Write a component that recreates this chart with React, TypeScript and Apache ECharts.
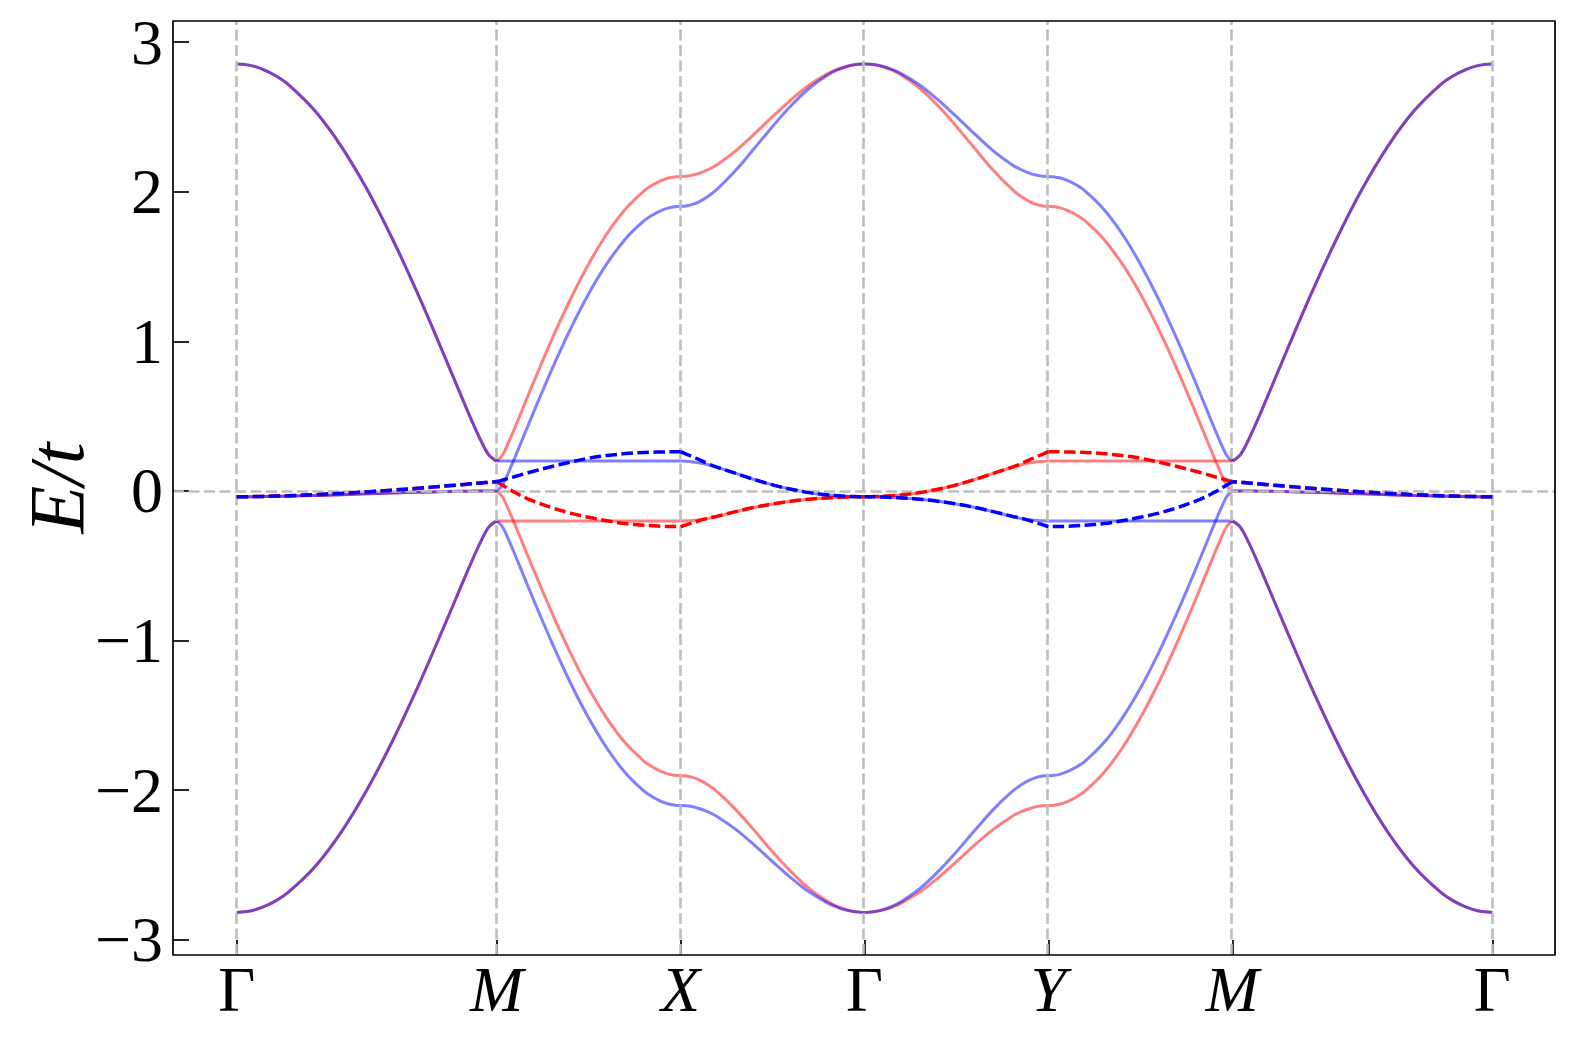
import React, { useEffect, useRef } from "react";
import * as echarts from "echarts";

// High-symmetry points along the path (x positions in units of pi/a)
const KPOS = [0, 1.4142, 2.4142, 3.4142, 4.4142, 5.4142, 6.8284];
const KLABELS = ["Γ", "M", "X", "Γ", "Y", "M", "Γ"];
const Y_TICKS = [-3, -2, -1, 0, 1, 2, 3];

// sample fractions along every path segment
const FR = [0, 0.03, 0.06, 0.1, 0.15, 0.2, 0.3, 0.4, 0.5, 0.6, 0.7, 0.8, 0.85, 0.9, 0.94, 0.97, 1];

// ---- Γ -> M (spin degenerate) ----
const GM_UPPER = [2.854, 2.851, 2.842, 2.819, 2.776, 2.715, 2.543, 2.309, 2.02, 1.681, 1.304, 0.898, 0.691, 0.486, 0.333, 0.24, 0.2];
const GM_MIDDLE = [-0.038, -0.038, -0.038, -0.037, -0.036, -0.034, -0.03, -0.025, -0.019, -0.013, -0.008, -0.004, -0.002, -0.001, 0, 0, 0];
const GM_LOWER = [-2.817, -2.813, -2.804, -2.782, -2.74, -2.68, -2.513, -2.285, -2.0, -1.668, -1.296, -0.895, -0.689, -0.485, -0.333, -0.24, -0.2];
const GM_DASHED = [-0.038, -0.038, -0.037, -0.036, -0.034, -0.032, -0.025, -0.016, -0.006, 0.006, 0.019, 0.033, 0.04, 0.048, 0.054, 0.058, 0.062];

// ---- M -> X ----
const MX_RED_UPPER = [0.2, 0.237, 0.313, 0.428, 0.577, 0.726, 1.013, 1.28, 1.518, 1.721, 1.885, 2.005, 2.047, 2.078, 2.094, 2.1, 2.103];
const MX_RED_LOWER = [0, -0.037, -0.113, -0.228, -0.377, -0.526, -0.813, -1.08, -1.318, -1.521, -1.685, -1.805, -1.847, -1.878, -1.894, -1.9, -1.903];
const MX_RED_FLAT = [-0.2, -0.2, -0.2, -0.2, -0.2, -0.2, -0.2, -0.2, -0.2, -0.2, -0.2, -0.2, -0.2, -0.2, -0.2, -0.2, -0.2];
const MX_RED_DASHED = [0.062, 0.04, 0.018, -0.01, -0.042, -0.068, -0.112, -0.148, -0.176, -0.199, -0.218, -0.229, -0.233, -0.236, -0.237, -0.238, -0.238];
const MX_BLUE_UPPER = [0, 0.037, 0.113, 0.228, 0.377, 0.526, 0.813, 1.08, 1.318, 1.521, 1.685, 1.805, 1.847, 1.878, 1.894, 1.9, 1.903];
const MX_BLUE_LOWER = [-0.2, -0.237, -0.313, -0.428, -0.577, -0.726, -1.013, -1.28, -1.518, -1.721, -1.885, -2.005, -2.047, -2.078, -2.094, -2.1, -2.103];
const MX_BLUE_FLAT = [0.2, 0.2, 0.2, 0.2, 0.2, 0.2, 0.2, 0.2, 0.2, 0.2, 0.2, 0.2, 0.2, 0.2, 0.2, 0.2, 0.2];
const MX_BLUE_DASHED = [0.062, 0.073, 0.083, 0.097, 0.115, 0.132, 0.164, 0.193, 0.219, 0.237, 0.25, 0.257, 0.259, 0.261, 0.262, 0.263, 0.263];

// ---- X -> Γ ----
const XG_RED_UPPER = [2.103, 2.104, 2.11, 2.123, 2.149, 2.183, 2.274, 2.385, 2.502, 2.615, 2.714, 2.79, 2.818, 2.838, 2.849, 2.853, 2.854];
const XG_RED_MIDDLE = [-0.2, -0.199, -0.197, -0.192, -0.183, -0.17, -0.138, -0.11, -0.087, -0.068, -0.055, -0.046, -0.043, -0.04, -0.039, -0.038, -0.038];
const XG_RED_LOWER = [-1.903, -1.905, -1.913, -1.931, -1.966, -2.012, -2.13, -2.268, -2.411, -2.544, -2.658, -2.744, -2.776, -2.798, -2.81, -2.815, -2.817];
const XG_RED_DASHED = [-0.238, -0.226, -0.214, -0.199, -0.182, -0.168, -0.138, -0.11, -0.087, -0.068, -0.055, -0.046, -0.043, -0.04, -0.039, -0.038, -0.038];
const XG_BLUE_UPPER = [1.903, 1.905, 1.914, 1.933, 1.97, 2.019, 2.144, 2.289, 2.437, 2.575, 2.692, 2.78, 2.813, 2.836, 2.848, 2.853, 2.854];
const XG_BLUE_MIDDLE = [0.2, 0.199, 0.196, 0.188, 0.175, 0.158, 0.118, 0.077, 0.041, 0.012, -0.011, -0.026, -0.031, -0.035, -0.037, -0.038, -0.038];
const XG_BLUE_LOWER = [-2.103, -2.104, -2.109, -2.122, -2.145, -2.177, -2.262, -2.366, -2.478, -2.586, -2.681, -2.755, -2.781, -2.801, -2.811, -2.815, -2.817];
const XG_BLUE_DASHED = [0.263, 0.247, 0.231, 0.21, 0.182, 0.158, 0.118, 0.077, 0.041, 0.012, -0.011, -0.026, -0.031, -0.035, -0.037, -0.038, -0.038];

// ---- Y -> Γ (read from Y towards the central Γ) ----
const YG_RED_UPPER = [1.903, 1.905, 1.914, 1.933, 1.97, 2.019, 2.144, 2.289, 2.437, 2.575, 2.692, 2.78, 2.813, 2.836, 2.848, 2.853, 2.854];
const YG_RED_MIDDLE = [0.2, 0.199, 0.196, 0.188, 0.175, 0.158, 0.118, 0.077, 0.041, 0.012, -0.011, -0.026, -0.031, -0.035, -0.037, -0.038, -0.038];
const YG_RED_LOWER = [-2.103, -2.104, -2.109, -2.122, -2.145, -2.177, -2.262, -2.366, -2.478, -2.586, -2.681, -2.755, -2.781, -2.801, -2.811, -2.815, -2.817];
const YG_RED_DASHED = [0.263, 0.247, 0.231, 0.21, 0.182, 0.158, 0.118, 0.077, 0.041, 0.012, -0.011, -0.026, -0.031, -0.035, -0.037, -0.038, -0.038];
const YG_BLUE_UPPER = [2.103, 2.104, 2.11, 2.123, 2.149, 2.183, 2.274, 2.385, 2.502, 2.615, 2.714, 2.79, 2.818, 2.838, 2.849, 2.853, 2.854];
const YG_BLUE_MIDDLE = [-0.2, -0.199, -0.197, -0.192, -0.183, -0.17, -0.138, -0.11, -0.087, -0.068, -0.055, -0.046, -0.043, -0.04, -0.039, -0.038, -0.038];
const YG_BLUE_LOWER = [-1.903, -1.905, -1.913, -1.931, -1.966, -2.012, -2.13, -2.268, -2.411, -2.544, -2.658, -2.744, -2.776, -2.798, -2.81, -2.815, -2.817];
const YG_BLUE_DASHED = [-0.238, -0.226, -0.214, -0.199, -0.182, -0.168, -0.138, -0.11, -0.087, -0.068, -0.055, -0.046, -0.043, -0.04, -0.039, -0.038, -0.038];

// ---- M -> Y (read from M towards Y) ----
const MY_RED_UPPER = [0, 0.037, 0.113, 0.228, 0.377, 0.526, 0.813, 1.08, 1.318, 1.521, 1.685, 1.805, 1.847, 1.878, 1.894, 1.9, 1.903];
const MY_RED_LOWER = [-0.2, -0.237, -0.313, -0.428, -0.577, -0.726, -1.013, -1.28, -1.518, -1.721, -1.885, -2.005, -2.047, -2.078, -2.094, -2.1, -2.103];
const MY_RED_FLAT = [0.2, 0.2, 0.2, 0.2, 0.2, 0.2, 0.2, 0.2, 0.2, 0.2, 0.2, 0.2, 0.2, 0.2, 0.2, 0.2, 0.2];
const MY_RED_DASHED = [0.062, 0.073, 0.083, 0.097, 0.115, 0.132, 0.164, 0.193, 0.219, 0.237, 0.25, 0.257, 0.259, 0.261, 0.262, 0.263, 0.263];
const MY_BLUE_UPPER = [0.2, 0.237, 0.313, 0.428, 0.577, 0.726, 1.013, 1.28, 1.518, 1.721, 1.885, 2.005, 2.047, 2.078, 2.094, 2.1, 2.103];
const MY_BLUE_LOWER = [0, -0.037, -0.113, -0.228, -0.377, -0.526, -0.813, -1.08, -1.318, -1.521, -1.685, -1.805, -1.847, -1.878, -1.894, -1.9, -1.903];
const MY_BLUE_FLAT = [-0.2, -0.2, -0.2, -0.2, -0.2, -0.2, -0.2, -0.2, -0.2, -0.2, -0.2, -0.2, -0.2, -0.2, -0.2, -0.2, -0.2];
const MY_BLUE_DASHED = [0.062, 0.04, 0.018, -0.01, -0.042, -0.068, -0.112, -0.148, -0.176, -0.199, -0.218, -0.229, -0.233, -0.236, -0.237, -0.238, -0.238];

// ---- Γ (right end) -> M (spin degenerate) ----
const GM2_UPPER = [2.854, 2.851, 2.842, 2.819, 2.776, 2.715, 2.543, 2.309, 2.02, 1.681, 1.304, 0.898, 0.691, 0.486, 0.333, 0.24, 0.2];
const GM2_MIDDLE = [-0.038, -0.038, -0.038, -0.037, -0.036, -0.034, -0.03, -0.025, -0.019, -0.013, -0.008, -0.004, -0.002, -0.001, 0, 0, 0];
const GM2_LOWER = [-2.817, -2.813, -2.804, -2.782, -2.74, -2.68, -2.513, -2.285, -2.0, -1.668, -1.296, -0.895, -0.689, -0.485, -0.333, -0.24, -0.2];
const GM2_DASHED = [-0.038, -0.038, -0.037, -0.036, -0.034, -0.032, -0.025, -0.016, -0.006, 0.006, 0.019, 0.033, 0.04, 0.048, 0.054, 0.058, 0.062];

type Curve = { from: number; to: number; ys: number[] };

const RED_SOLID: Curve[] = [
  { from: 0, to: 1, ys: GM_UPPER }, { from: 0, to: 1, ys: GM_MIDDLE }, { from: 0, to: 1, ys: GM_LOWER },
  { from: 1, to: 2, ys: MX_RED_UPPER }, { from: 1, to: 2, ys: MX_RED_LOWER }, { from: 1, to: 2, ys: MX_RED_FLAT },
  { from: 2, to: 3, ys: XG_RED_UPPER }, { from: 2, to: 3, ys: XG_RED_MIDDLE }, { from: 2, to: 3, ys: XG_RED_LOWER },
  { from: 4, to: 3, ys: YG_RED_UPPER }, { from: 4, to: 3, ys: YG_RED_MIDDLE }, { from: 4, to: 3, ys: YG_RED_LOWER },
  { from: 5, to: 4, ys: MY_RED_UPPER }, { from: 5, to: 4, ys: MY_RED_LOWER }, { from: 5, to: 4, ys: MY_RED_FLAT },
  { from: 6, to: 5, ys: GM2_UPPER }, { from: 6, to: 5, ys: GM2_MIDDLE }, { from: 6, to: 5, ys: GM2_LOWER },
];
const BLUE_SOLID: Curve[] = [
  { from: 0, to: 1, ys: GM_UPPER }, { from: 0, to: 1, ys: GM_MIDDLE }, { from: 0, to: 1, ys: GM_LOWER },
  { from: 1, to: 2, ys: MX_BLUE_UPPER }, { from: 1, to: 2, ys: MX_BLUE_LOWER }, { from: 1, to: 2, ys: MX_BLUE_FLAT },
  { from: 2, to: 3, ys: XG_BLUE_UPPER }, { from: 2, to: 3, ys: XG_BLUE_MIDDLE }, { from: 2, to: 3, ys: XG_BLUE_LOWER },
  { from: 4, to: 3, ys: YG_BLUE_UPPER }, { from: 4, to: 3, ys: YG_BLUE_MIDDLE }, { from: 4, to: 3, ys: YG_BLUE_LOWER },
  { from: 5, to: 4, ys: MY_BLUE_UPPER }, { from: 5, to: 4, ys: MY_BLUE_LOWER }, { from: 5, to: 4, ys: MY_BLUE_FLAT },
  { from: 6, to: 5, ys: GM2_UPPER }, { from: 6, to: 5, ys: GM2_MIDDLE }, { from: 6, to: 5, ys: GM2_LOWER },
];
const RED_DASHED: Curve[] = [
  { from: 0, to: 1, ys: GM_DASHED }, { from: 1, to: 2, ys: MX_RED_DASHED }, { from: 2, to: 3, ys: XG_RED_DASHED },
  { from: 4, to: 3, ys: YG_RED_DASHED }, { from: 5, to: 4, ys: MY_RED_DASHED }, { from: 6, to: 5, ys: GM2_DASHED },
];
const BLUE_DASHED: Curve[] = [
  { from: 0, to: 1, ys: GM_DASHED }, { from: 1, to: 2, ys: MX_BLUE_DASHED }, { from: 2, to: 3, ys: XG_BLUE_DASHED },
  { from: 4, to: 3, ys: YG_BLUE_DASHED }, { from: 5, to: 4, ys: MY_BLUE_DASHED }, { from: 6, to: 5, ys: GM2_DASHED },
];

const SERIF = "'Liberation Serif'";

function toData(c: Curve) {
  const a = KPOS[c.from];
  const b = KPOS[c.to];
  return FR.map((f, i) => [a + (b - a) * f, c.ys[i]]);
}

function lineSeries(c: Curve, color: string, dashed: boolean, z: number) {
  return {
    type: "line",
    data: toData(c),
    showSymbol: false,
    symbol: "none",
    smooth: 0.35,
    silent: true,
    z,
    emphasis: { disabled: true },
    lineStyle: dashed
      ? { color, width: 3.5, type: [11.5, 4.5], cap: "butt", join: "round" }
      : { color, width: 3, opacity: 0.5, join: "round" },
  };
}

export default function App() {
  const ref = useRef<HTMLDivElement>(null);
  useEffect(() => {
    if (!ref.current) return;
    const chart = echarts.init(ref.current, undefined, { renderer: "svg" });
    const guide = {
      type: "line",
      data: [[0, 0]],
      showSymbol: false,
      symbol: "none",
      lineStyle: { opacity: 0 },
      silent: true,
      z: 1,
      markLine: {
        silent: true,
        symbol: ["none", "none"],
        label: { show: false },
        animation: false,
        lineStyle: { color: "#bdbdbd", width: 2.6, type: [11, 4.5] },
        data: [...KPOS.map((p) => ({ xAxis: p })), { yAxis: 0 }],
      },
    };
    const series: any[] = [guide];
    RED_SOLID.forEach((c) => series.push(lineSeries(c, "#ff0000", false, 3)));
    BLUE_SOLID.forEach((c) => series.push(lineSeries(c, "#0000ff", false, 4)));
    RED_DASHED.forEach((c) => series.push(lineSeries(c, "#ff0000", true, 5)));
    BLUE_DASHED.forEach((c) => series.push(lineSeries(c, "#0000ff", true, 6)));

    chart.setOption({
      animation: false,
      backgroundColor: "#ffffff",
      grid: {
        left: 173,
        top: 21,
        width: 1382,
        height: 934,
        show: true,
        borderColor: "#000",
        borderWidth: 1.7,
        backgroundColor: "transparent",
        z: 10,
      },
      xAxis: {
        type: "value",
        min: -0.3464,
        max: 7.1693,
        axisLine: { show: false, onZero: false },
        splitLine: { show: false },
        axisTick: {
          show: true,
          inside: true,
          length: 15,
          customValues: KPOS,
          lineStyle: { color: "#000", width: 1.7 },
        },
        axisLabel: {
          show: true,
          customValues: KPOS,
          margin: 2,
          color: "#000",
          fontFamily: SERIF,
          fontSize: 64,
          formatter: (v: number) => {
            let idx = 0;
            let best = Infinity;
            KPOS.forEach((p, i) => {
              const d = Math.abs(p - v);
              if (d < best) {
                best = d;
                idx = i;
              }
            });
            const s = KLABELS[idx];
            return s === "Γ" ? "{g|" + s + "}" : "{i|" + s + "}";
          },
          rich: {
            g: { fontFamily: SERIF, fontSize: 64, fontStyle: "normal", color: "#000" },
            i: { fontFamily: SERIF, fontSize: 64, fontStyle: "italic", color: "#000" },
          },
        },
      },
      yAxis: {
        type: "value",
        min: -3.1016,
        max: 3.1417,
        axisLine: { show: false, onZero: false },
        splitLine: { show: false },
        axisTick: {
          show: true,
          inside: true,
          length: 16,
          customValues: Y_TICKS,
          lineStyle: { color: "#000", width: 1.7 },
        },
        axisLabel: {
          show: true,
          customValues: Y_TICKS,
          margin: 10,
          color: "#000",
          fontFamily: SERIF,
          fontSize: 64,
          formatter: (v: number) => (v < 0 ? "\u2212" + Math.abs(v) : String(v)),
        },
      },
      graphic: [
        {
          type: "text",
          x: 56,
          y: 488,
          rotation: Math.PI / 2,
          style: {
            text: "E/t",
            fontFamily: SERIF,
            fontSize: 78,
            fontStyle: "italic",
            fill: "#000",
            align: "center",
            verticalAlign: "middle",
          },
        },
      ],
      series,
    });
    return () => chart.dispose();
  }, []);
  return (
    <div
      ref={ref}
      style={{ position: "fixed", left: 0, top: 0, width: 1578, height: 1041, background: "#fff" }}
    />
  );
}
